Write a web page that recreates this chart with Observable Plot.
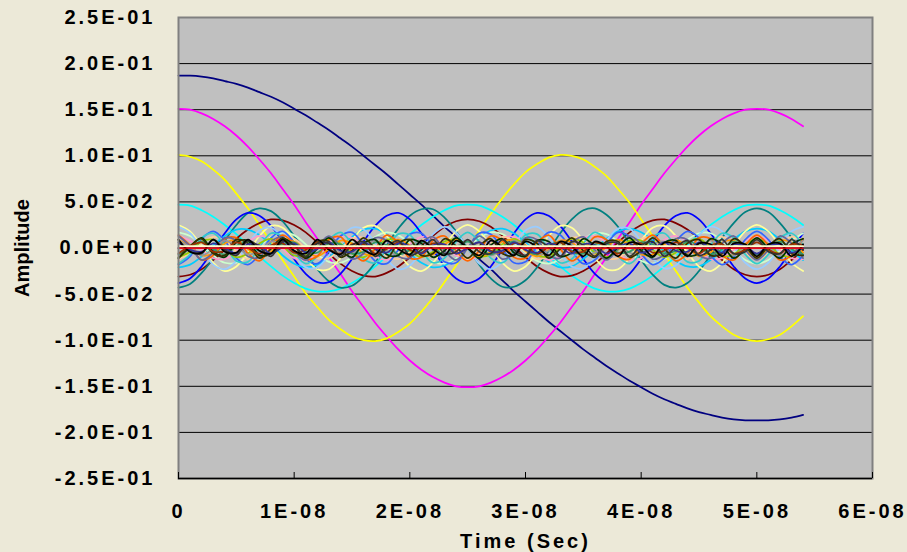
<!DOCTYPE html>
<html>
<head>
<meta charset="utf-8">
<script src="https://cdn.jsdelivr.net/npm/d3@7"></script>
<script src="https://cdn.jsdelivr.net/npm/@observablehq/plot@0.6"></script>
<style>
html, body { margin: 0; padding: 0; background: #ECE9D8; }
#chart svg { display: block; }
#chart g[aria-label="x-axis tick label"] text,
#chart g[aria-label="y-axis tick label"] text { letter-spacing: 3px; }
</style>
</head>
<body>
<div id="chart"></div>
<script>
// ---- data (time in ns, amplitude values) ----
const timeNs = [0,1,2,3,4,5,6,7,8,9,10,11,12,13,14,15,16,17,18,19,20,21,22,23,24,25,26,27,28,29,30,31,32,33,34,35,36,37,38,39,40,41,42,43,44,45,46,47,48,49,50,51,52,53,54];

const mode1 = [.187,.187,.186,.184,.181,.178,.174,.169,.164,.158, .151,.144,.136,.128,.119,.110,.100,.090,.080,.069, .058,.047,.035,.023,.012,0,-.012,-.023,-.035,-.047, -.058,-.069,-.080,-.090,-.100,-.110,-.119,-.128,-.136,-.144, -.151,-.158,-.164,-.169,-.174,-.178,-.181,-.184,-.186,-.187, -.187,-.187,-.186,-.184,-.181];
const mode2 = [.151,.150,.146,.140,.132,.122,.110,.096,.081,.064, .047,.028,.010,-.010,-.028,-.047,-.064,-.081,-.096,-.110, -.122,-.132,-.140,-.146,-.150,-.151,-.150,-.146,-.140,-.132, -.122,-.110,-.096,-.081,-.064,-.047,-.028,-.010,.010,.028, .047,.064,.081,.096,.110,.122,.132,.140,.146,.150, .151,.150,.146,.140,.132];
const mode3 = [.101,.099,.094,.085,.074,.059,.043,.025,.006,-.013, -.031,-.049,-.064,-.078,-.088,-.096,-.100,-.101,-.098,-.091, -.082,-.069,-.054,-.037,-.019,0,.019,.037,.054,.069, .082,.091,.098,.101,.100,.096,.088,.078,.064,.049, .031,.013,-.006,-.025,-.043,-.059,-.074,-.085,-.094,-.099, -.101,-.099,-.094,-.085,-.074];
const mode4 = [.047,.046,.041,.034,.025,.015,.003,-.009,-.020,-.030,-.038,-.044,-.047,-.047,-.044,-.038,-.030,-.020,-.009,.003,.015,.025,.034,.041,.046, .047,.046,.041,.034,.025,.015,.003,-.009,-.020,-.030,-.038,-.044,-.047,-.047,-.044,-.038,-.030,-.020,-.009,.003,.015,.025,.034,.041,.046, .047,.046,.041,.034,.025];
const mode6 = [-.031,-.029,-.023,-.013,-.002,.010,.020,.027,.031,.030, .025,.017,.006,-.006,-.017,-.025,-.030,-.031,-.027,-.020, -.010,.002,.013,.023,.029,.031,.029,.023,.013,.002, -.010,-.020,-.027,-.031,-.030,-.025,-.017,-.006,.006,.017, .025,.030,.031,.027,.020,.010,-.002,-.013,-.023,-.029, -.031,-.029,-.023,-.013,-.002];
const mode7 = [-.043,-.039,-.027,-.011,.008,.025,.038,.043,.040,.029, .013,-.005,-.023,-.036,-.043,-.041,-.031,-.016,.003,.021, .035,.042,.042,.033,.018,0,-.018,-.033,-.042,-.042, -.035,-.021,-.003,.016,.031,.041,.043,.036,.023,.005, -.013,-.029,-.040,-.043,-.038,-.025,-.008,.011,.027,.039, .043,.039,.027,.011,-.008];
const mode8 = [-.038,-.033,-.020,-.002,.016,.031,.038,.035,.024,.007,-.012,-.028,-.037,-.037,-.028,-.012,.007,.024,.035,.038,.031,.016,-.002,-.020,-.033, -.038,-.033,-.020,-.002,.016,.031,.038,.035,.024,.007,-.012,-.028,-.037,-.037,-.028,-.012,.007,.024,.035,.038,.031,.016,-.002,-.020,-.033, -.038,-.033,-.020,-.002,.016];
const mode9 = [-.021,-.018,-.009,.003,.013,.020,.020,.014,.004,-.008, -.017,-.021,-.018,-.010,.001,.012,.020,.021,.015,.005, -.006,-.016,-.021,-.019,-.011,0,.011,.019,.021,.016, .006,-.005,-.015,-.021,-.020,-.012,-.001,.010,.018,.021, .017,.008,-.004,-.014,-.020,-.020,-.013,-.003,.009,.018, .021,.018,.009,-.003,-.013];
const mode11 = [.017,.013,.003,-.008,-.016,-.016,-.009,.002,.012,.017, .014,.004,-.007,-.015,-.016,-.010,.001,.012,.017,.014, .005,-.006,-.015,-.017,-.011,0,.011,.017,.015,.006, -.005,-.014,-.017,-.012,-.001,.010,.016,.015,.007,-.004, -.014,-.017,-.012,-.002,.009,.016,.016,.008,-.003,-.013, -.017,-.013,-.003,.008,.016];
const mode12 = [.025,.018,.002,-.016,-.025,-.020,-.005,.013,.024,.022,.008,-.011,-.023,-.023,-.011,.008,.022,.024,.013,-.005,-.020,-.025,-.016,.002,.018, .025,.018,.002,-.016,-.025,-.020,-.005,.013,.024,.022,.008,-.011,-.023,-.023,-.011,.008,.022,.024,.013,-.005,-.020,-.025,-.016,.002,.018, .025,.018,.002,-.016,-.025];
const mode13 = [.023,.016,-.001,-.018,-.023,-.014,.004,.019,.022,.011, -.007,-.021,-.021,-.008,.010,.022,.020,.006,-.012,-.023, -.019,-.003,.015,.023,.017,0,-.017,-.023,-.015,.003, .019,.023,.012,-.006,-.020,-.022,-.010,.008,.021,.021, .007,-.011,-.022,-.019,-.004,.014,.023,.018,.001,-.016, -.023,-.016,.001,.018,.023];
const mode14 = [.013,.008,-.002,-.011,-.012,-.004,.007,.013,.009,-.001, -.011,-.013,-.006,.006,.013,.011,.001,-.009,-.013,-.007, .004,.012,.011,.002,-.008,-.013,-.008,.002,.011,.012, .004,-.007,-.013,-.009,.001,.011,.013,.006,-.006,-.013, -.011,-.001,.009,.013,.007,-.004,-.012,-.011,-.002,.008, .013,.008,-.002,-.011,-.012];
const mode16 = [-.012,-.006,.005,.012,.008,-.004,-.012,-.009,.002,.011,.010,-.001,-.011,-.011,-.001,.010,.011,.002,-.009,-.012,-.004,.008,.012,.005,-.006, -.012,-.006,.005,.012,.008,-.004,-.012,-.009,.002,.011,.010,-.001,-.011,-.011,-.001,.010,.011,.002,-.009,-.012,-.004,.008,.012,.005,-.006, -.012,-.006,.005,.012,.008];
const mode17 = [-.018,-.009,.010,.018,.008,-.011,-.018,-.007,.011,.018, .006,-.012,-.017,-.004,.013,.017,.003,-.014,-.017,-.002, .015,.016,.001,-.015,-.016,0,.016,.015,-.001,-.016, -.015,.002,.017,.014,-.003,-.017,-.013,.004,.017,.012, -.006,-.018,-.011,.007,.018,.011,-.008,-.018,-.010,.009, .018,.009,-.010,-.018,-.008];
const mode18 = [-.017,-.007,.011,.016,.003,-.014,-.015,.001,.016,.012, -.005,-.017,-.009,.009,.017,.005,-.012,-.016,-.001,.015, .014,-.003,-.016,-.011,.007,.017,.007,-.011,-.016,-.003, .014,.015,-.001,-.016,-.012,.005,.017,.009,-.009,-.017, -.005,.012,.016,.001,-.015,-.014,.003,.016,.011,-.007, -.017,-.007,.011,.016,.003];
const mode19 = [-.010,-.004,.007,.009,-.001,-.010,-.006,.005,.010,.002, -.008,-.008,.002,.010,.005,-.006,-.010,-.001,.009,.008, -.003,-.010,-.004,.007,.009,0,-.009,-.007,.004,.010, .003,-.008,-.009,.001,.010,.006,-.005,-.010,-.002,.008, .008,-.002,-.010,-.005,.006,.010,.001,-.009,-.007,.004, .010,.004,-.007,-.009,.001];
const mode21 = [.009,.002,-.008,-.006,.005,.009,-.001,-.009,-.004,.007, .007,-.003,-.009,-.001,.008,.005,-.006,-.008,.002,.009, .003,-.008,-.007,.004,.009,0,-.009,-.004,.007,.008, -.003,-.009,-.002,.008,.006,-.005,-.008,.001,.009,.003, -.007,-.007,.004,.009,.001,-.009,-.005,.006,.008,-.002, -.009,-.002,.008,.006,-.005];
const mode22 = [.014,.003,-.013,-.008,.010,.011,-.006,-.014,.001,.014, .004,-.012,-.009,.009,.012,-.004,-.014,-.001,.014,.006, -.011,-.010,.008,.013,-.003,-.014,-.003,.013,.008,-.010, -.011,.006,.014,-.001,-.014,-.004,.012,.009,-.009,-.012, .004,.014,.001,-.014,-.006,.011,.010,-.008,-.013,.003, .014,.003,-.013,-.008,.010];
const mode23 = [.013,.002,-.013,-.005,.011,.008,-.009,-.010,.007,.012, -.004,-.013,.001,.013,.002,-.012,-.006,.011,.008,-.009, -.011,.006,.012,-.003,-.013,0,.013,.003,-.012,-.006, .011,.009,-.008,-.011,.006,.012,-.002,-.013,-.001,.013, .004,-.012,-.007,.010,.009,-.008,-.011,.005,.013,-.002, -.013,-.002,.013,.005,-.011];
const mode24 = [.008,.001,-.008,-.001,.008,.002,-.007,-.003,.007,.004,-.006,-.005,.006,.006,-.005,-.006,.004,.007,-.003,-.007,.002,.008,-.001,-.008,.001, .008,.001,-.008,-.001,.008,.002,-.007,-.003,.007,.004,-.006,-.005,.006,.006,-.005,-.006,.004,.007,-.003,-.007,.002,.008,-.001,-.008,.001, .008,.001,-.008,-.001,.008];
const mode26 = [-.007,0,.007,-.001,-.007,.002,.007,-.003,-.006,.004,.006,-.004,-.005,.005,.004,-.006,-.004,.006,.003,-.007,-.002,.007,.001,-.007,0,.007, 0,-.007,.001,.007,-.002,-.007,.003,.006,-.004,-.006,.004,.005,-.005,-.004,.006,.004,-.006,-.003,.007,.002,-.007,-.001,.007,0, -.007,0,.007,-.001,-.007];
const mode27 = [-.011,.001,.011,-.004,-.010,.006,.008,-.008,-.006,.010, .003,-.011,-.001,.011,-.002,-.010,.005,.009,-.007,-.008, .009,.005,-.010,-.003,.011,0,-.011,.003,.010,-.005, -.009,.008,.007,-.009,-.005,.010,.002,-.011,.001,.011, -.003,-.010,.006,.008,-.008,-.006,.010,.004,-.011,-.001, .011,-.001,-.011,.004,.010];
const mode28 = [-.011,.002,.010,-.006,-.008,.009,.005,-.011,-.001,.011,-.003,-.010,.007,.007,-.010,-.003,.011,-.001,-.011,.005,.009,-.008,-.006,.010,.002, -.011,.002,.010,-.006,-.008,.009,.005,-.011,-.001,.011,-.003,-.010,.007,.007,-.010,-.003,.011,-.001,-.011,.005,.009,-.008,-.006,.010,.002, -.011,.002,.010,-.006,-.008];
const mode29 = [-.006,.002,.006,-.004,-.003,.006,0,-.006,.003,.005, -.005,-.002,.006,-.001,-.006,.004,.004,-.006,-.001,.006, -.002,-.005,.005,.003,-.006,0,.006,-.003,-.005,.005, .002,-.006,.001,.006,-.004,-.004,.006,.001,-.006,.002, .005,-.005,-.003,.006,0,-.006,.003,.004,-.006,-.002, .006,-.002,-.006,.004,.003];
const mode31 = [.006,-.002,-.004,.005,0,-.006,.004,.003,-.006,.001, .005,-.005,-.001,.006,-.003,-.004,.006,-.001,-.005,.005, .002,-.006,.003,.004,-.006,0,.006,-.004,-.003,.006, -.002,-.005,.005,.001,-.006,.004,.003,-.006,.001,.005, -.005,-.001,.006,-.003,-.004,.006,0,-.005,.004,.002, -.006,.002,.004,-.005,0];
const mode32 = [.009,-.004,-.006,.009,-.002,-.008,.008,.001,-.009,.007,.003,-.009,.005,.005,-.009,.003,.007,-.009,.001,.008,-.008,-.002,.009,-.006,-.004, .009,-.004,-.006,.009,-.002,-.008,.008,.001,-.009,.007,.003,-.009,.005,.005,-.009,.003,.007,-.009,.001,.008,-.008,-.002,.009,-.006,-.004, .009,-.004,-.006,.009,-.002];
const mode33 = [.009,-.004,-.005,.009,-.004,-.005,.009,-.003,-.006,.009, -.003,-.006,.009,-.002,-.007,.009,-.002,-.007,.008,-.001, -.007,.008,-.001,-.008,.008,0,-.008,.008,.001,-.008, .007,.001,-.008,.007,.002,-.009,.007,.002,-.009,.006, .003,-.009,.006,.003,-.009,.005,.004,-.009,.005,.004, -.009,.004,.005,-.009,.004];
const zeroModeValues = [0,0,0,0,0, 0,0,0,0,0, 0,0,0,0,0, 0,0,0,0,0, 0,0,0,0,0, 0,0,0,0,0, 0,0,0,0,0, 0,0,0,0,0, 0,0,0,0,0, 0,0,0,0,0, 0,0,0,0,0];
const offsetLineValues = [.002,.002,.002,.002,.002, .002,.002,.002,.002,.002, .002,.002,.002,.002,.002, .002,.002,.002,.002,.002, .002,.002,.002,.002,.002, .002,.002,.002,.002,.002, .002,.002,.002,.002,.002, .002,.002,.002,.002,.002, .002,.002,.002,.002,.002, .002,.002,.002,.002,.002, .002,.002,.002,.002,.002];

const seriesNames = ["1","2","3","4","5","6","7","8","9","10","11","12","13","14","15","16","17","18","19","20","21","22","23","24","25","26","27","28","29","30","31","32","33","35","offset"];
const seriesColors = ["#000080","#FF00FF","#FFFF00","#00FFFF","#800080","#800000","#008080","#0000FF","#00CCFF","#CCFFFF","#CCFFCC","#FFFF99","#99CCFF","#FF99CC","#CC99FF","#FFCC99","#3366FF","#33CCCC","#99CC00","#FFCC00","#FF9900","#FF6600","#666699","#969696","#003366","#339966","#003300","#333300","#993300","#993366","#333399","#333333","#000000","#FF0000","#FFFFCC"];
const seriesValues = [mode1,mode2,mode3,mode4,zeroModeValues,mode6,mode7,mode8,mode9,zeroModeValues,mode11,mode12,mode13,mode14,zeroModeValues,mode16,mode17,mode18,mode19,zeroModeValues,mode21,mode22,mode23,mode24,zeroModeValues,mode26,mode27,mode28,mode29,zeroModeValues,mode31,mode32,mode33,zeroModeValues,offsetLineValues];

const xDomain = [0, 60];
const xTickValues = [0, 10, 20, 30, 40, 50, 60];
const xTickLabels = ["0", "1E-08", "2E-08", "3E-08", "4E-08", "5E-08", "6E-08"];
const yDomain = [-0.25, 0.25];
const yTickValues = [0.25, 0.2, 0.15, 0.1, 0.05, 0, -0.05, -0.1, -0.15, -0.2, -0.25];
const yTickLabels = ["2.5E-01","2.0E-01","1.5E-01","1.0E-01","5.0E-02","0.0E+00","-5.0E-02","-1.0E-01","-1.5E-01","-2.0E-01","-2.5E-01"];
const xTitle = "Time (Sec)";
const yTitle = "Amplitude";

// ---- build ----
const rows = seriesNames.flatMap((name, s) =>
  seriesValues[s].map((v, i) => ({t: timeNs[i], v, name})));

const lineMarks = seriesNames.map((name, s) =>
  Plot.line(rows.filter(r => r.name === name), {
    x: "t", y: "v", stroke: seriesColors[s],
    strokeWidth: name === "35" ? 1.25 : 1.75,
    curve: "catmull-rom"
  }));

const gridValues = yTickValues.filter(v => v !== yDomain[0] && v !== yDomain[1]);

const chart = Plot.plot({
  width: 907,
  height: 552,
  marginLeft: 178,
  marginRight: 35,
  marginTop: 17,
  marginBottom: 74,
  style: {
    background: "#ECE9D8",
    fontFamily: "'Liberation Sans', Arial, sans-serif",
    fontWeight: "bold",
    fontSize: "20px",
    color: "#000"
  },
  x: {domain: xDomain},
  y: {domain: yDomain},
  marks: [
    Plot.frame({fill: "#C0C0C0"}),
    Plot.ruleY(gridValues, {stroke: "#000", strokeWidth: 1}),
    ...lineMarks,
    Plot.frame({stroke: "#808080", strokeWidth: 2}),
    Plot.ruleY([yDomain[0]], {stroke: "#000", strokeWidth: 1.5}),
    Plot.ruleX(xTickValues, {y1: yDomain[0], y2: yDomain[0], insetTop: -6, stroke: "#000", strokeWidth: 1}),
    Plot.axisX({
      ticks: xTickValues,
      tickFormat: d => xTickLabels[xTickValues.indexOf(d)],
      tickSize: 0, tickPadding: 25, label: null
    }),
    Plot.axisY({
      ticks: yTickValues,
      tickFormat: d => yTickLabels[yTickValues.indexOf(d)],
      tickSize: 0, tickPadding: 23, label: null
    }),
    Plot.text([yTitle], {text: d => d, frameAnchor: "left", textAnchor: "middle", lineAnchor: "middle", rotate: -90, dx: -156, fontSize: 20, fontWeight: "bold", fill: "#000"}),
    Plot.text([xTitle], {text: d => d, frameAnchor: "bottom", textAnchor: "middle", lineAnchor: "middle", dy: 63, fontSize: 20, fontWeight: "bold", fill: "#000"})
  ]
});

document.getElementById("chart").appendChild(chart);
d3.select(chart).selectAll("text").filter(function() { return this.textContent === xTitle; })
  .style("letter-spacing", "3px");
</script>
</body>
</html>
